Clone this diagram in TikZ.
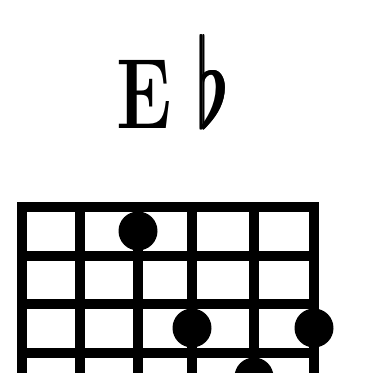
\documentclass[tikz,border=0pt]{standalone}
\usepackage{tikz}
\newcommand{\heavyflat}{\rlap{$\flat$}\kern0.4pt\rlap{$\flat$}\kern0.4pt\rlap{$\flat$}\kern0.3pt$\flat$}

\begin{document}
\begin{tikzpicture}[
  x=1pt, y=-1pt,
  gridline/.style={line width=9.5pt, line cap=rect},
  fingerdot/.style={circle, fill=black, inner sep=0pt, minimum size=39pt},
  chordname/.style={font=\fontsize{100}{100}\selectfont\bfseries, inner sep=0pt, anchor=base}
]
\useasboundingbox (0,0) rectangle (376,373);
\clip (0,0) rectangle (376,373);
% chord name
\node[chordname] (root) at (144,128) {\scalebox{0.75}[1]{E}};
\node[chordname] (flat) at (213,127) {\resizebox{35pt}{93pt}{\heavyflat}};
% strings and fret midpoints
\foreach \x [count=\i] in {22,80,138,192,254,314}
  \coordinate (s\i) at (\x,207);
\foreach \y [count=\j] in {231,280,328,377}
  \coordinate (f\j) at (0,\y);
% grid
\foreach \i in {1,...,6}
  \draw[gridline] (s\i) -- ++(0,200);
\foreach \y in {207,256,304,353,402}
  \draw[gridline] (22,\y) -- (314,\y);
% fingers
\foreach \s/\f in {3/1,4/3,6/3,5/4}
  \node[fingerdot] (dot\s) at (s\s |- f\f) {};
\end{tikzpicture}
\end{document}
